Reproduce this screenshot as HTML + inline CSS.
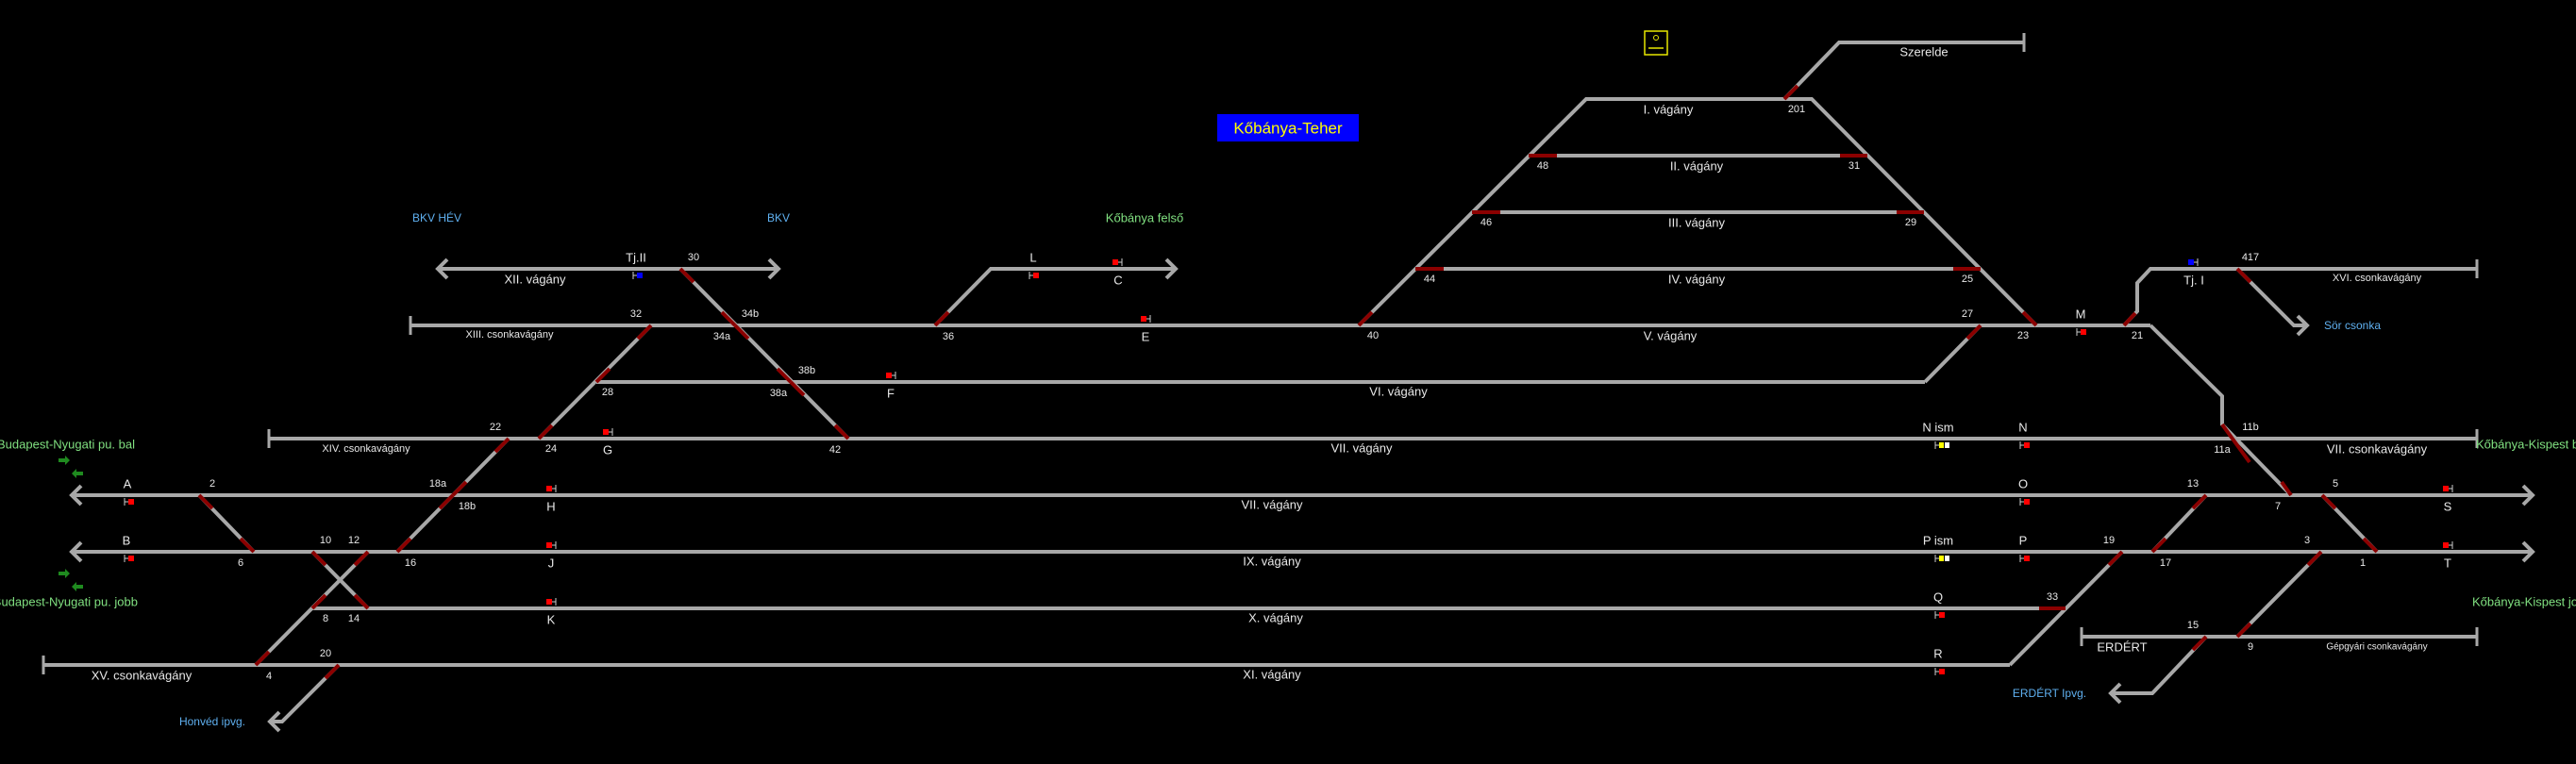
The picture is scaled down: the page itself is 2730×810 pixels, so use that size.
<!DOCTYPE html>
<html><head><meta charset="utf-8"><style>
html,body{margin:0;padding:0;background:#000;}
svg{display:block;}
text{font-family:"Liberation Sans",sans-serif;fill:#e8e8e8;font-size:12px;dominant-baseline:central;text-anchor:middle;}
.n{font-size:11px}
.t{font-size:13px}
.s{font-size:11px}
.b{fill:#5fb0f0;font-size:12px}
.g{fill:#80e080;font-size:13px}
</style></head><body>
<svg width="2730" height="810" viewBox="0 0 2730 810" xmlns="http://www.w3.org/2000/svg">
<g stroke="#a8a8a8" stroke-width="4" fill="none" stroke-linecap="butt">
<line x1="464" y1="285" x2="825" y2="285"/>
<polyline points="1246,285 1050,285 991,345"/>
<line x1="435" y1="345" x2="2279" y2="345"/>
<line x1="632" y1="405" x2="2040" y2="405"/>
<line x1="285" y1="465" x2="2625" y2="465"/>
<line x1="76" y1="525" x2="2684" y2="525"/>
<line x1="76" y1="585" x2="2684" y2="585"/>
<line x1="331" y1="645" x2="2189" y2="645"/>
<line x1="46" y1="705" x2="2130" y2="705"/>
<line x1="2206" y1="675" x2="2625" y2="675"/>
<line x1="435" y1="335" x2="435" y2="355" stroke-width="3"/>
<line x1="285" y1="455" x2="285" y2="475" stroke-width="3"/>
<line x1="46" y1="695" x2="46" y2="715" stroke-width="3"/>
<line x1="2625" y1="455" x2="2625" y2="475" stroke-width="3"/>
<line x1="2625" y1="275" x2="2625" y2="295" stroke-width="3"/>
<line x1="2206" y1="665" x2="2206" y2="685" stroke-width="3"/>
<line x1="2625" y1="665" x2="2625" y2="685" stroke-width="3"/>
<line x1="2145" y1="35" x2="2145" y2="55" stroke-width="3"/>
<polyline points="86,515 76,525 86,535"/>
<polyline points="86,575 76,585 86,595"/>
<polyline points="474,275 464,285 474,295"/>
<polyline points="815,275 825,285 815,295"/>
<polyline points="1236,275 1246,285 1236,295"/>
<polyline points="2674,515 2684,525 2674,535"/>
<polyline points="2674,575 2684,585 2674,595"/>
<polyline points="296,755 286,765 296,775"/>
<polyline points="2435,335 2445,345 2435,355"/>
<polyline points="2247,725 2237,735 2247,745"/>
<line x1="690" y1="345" x2="571" y2="465"/>
<line x1="539" y1="465" x2="421" y2="585"/>
<line x1="211" y1="525" x2="269" y2="585"/>
<line x1="331" y1="585" x2="390" y2="645"/>
<line x1="390" y1="585" x2="271" y2="705"/>
<polyline points="359,705 299,765 286,765"/>
<line x1="721" y1="285" x2="899" y2="465"/>
<polyline points="1440,345 1681,105 1920,105 2158,345"/>
<polyline points="1891,105 1949,45 2145,45"/>
<line x1="1620" y1="165" x2="1979" y2="165"/>
<line x1="1560" y1="225" x2="2039" y2="225"/>
<line x1="1500" y1="285" x2="2099" y2="285"/>
<line x1="2099" y1="345" x2="2040" y2="405"/>
<polyline points="2251,345 2265,330 2265,300 2279,285 2625,285"/>
<polyline points="2371,285 2431,345 2445,345"/>
<polyline points="2279,345 2355,420 2355,450 2428,525"/>
<line x1="2338" y1="525" x2="2281" y2="585"/>
<line x1="2461" y1="525" x2="2519" y2="585"/>
<polyline points="2249,585 2130,705"/>
<line x1="2460" y1="585" x2="2371" y2="675"/>
<polyline points="2338,675 2281,735 2237,735"/>
</g>
<g stroke="#8b0000" stroke-width="4">
<line x1="690" y1="345" x2="676" y2="359"/>
<line x1="632" y1="405" x2="646" y2="391"/>
<line x1="571" y1="465" x2="585" y2="451"/>
<line x1="539" y1="465" x2="525" y2="479"/>
<line x1="480" y1="525" x2="494" y2="511"/>
<line x1="480" y1="525" x2="466" y2="539"/>
<line x1="421" y1="585" x2="435" y2="571"/>
<line x1="211" y1="525" x2="225" y2="539"/>
<line x1="269" y1="585" x2="255" y2="571"/>
<line x1="331" y1="585" x2="345" y2="599"/>
<line x1="390" y1="645" x2="376" y2="631"/>
<line x1="390" y1="585" x2="376" y2="599"/>
<line x1="331" y1="645" x2="345" y2="631"/>
<line x1="271" y1="705" x2="285" y2="691"/>
<line x1="359" y1="705" x2="345" y2="719"/>
<line x1="721" y1="285" x2="735" y2="299"/>
<line x1="779" y1="345" x2="765" y2="331"/>
<line x1="779" y1="345" x2="793" y2="359"/>
<line x1="838" y1="405" x2="824" y2="391"/>
<line x1="838" y1="405" x2="852" y2="419"/>
<line x1="899" y1="465" x2="885" y2="451"/>
<line x1="991" y1="345" x2="1005" y2="331"/>
<line x1="1440" y1="345" x2="1454" y2="331"/>
<line x1="1891" y1="105" x2="1905" y2="91"/>
<line x1="1620" y1="165" x2="1650" y2="165"/>
<line x1="1950" y1="165" x2="1979" y2="165"/>
<line x1="1560" y1="225" x2="1590" y2="225"/>
<line x1="2010" y1="225" x2="2039" y2="225"/>
<line x1="1500" y1="285" x2="1530" y2="285"/>
<line x1="2070" y1="285" x2="2099" y2="285"/>
<line x1="2158" y1="345" x2="2144" y2="331"/>
<line x1="2099" y1="345" x2="2085" y2="359"/>
<line x1="2251" y1="345" x2="2263" y2="332"/>
<line x1="2371" y1="285" x2="2385" y2="299"/>
<line x1="2355" y1="450" x2="2384" y2="490"/>
<line x1="2428" y1="525" x2="2418" y2="511"/>
<line x1="2338" y1="525" x2="2324" y2="539"/>
<line x1="2281" y1="585" x2="2295" y2="571"/>
<line x1="2461" y1="525" x2="2475" y2="539"/>
<line x1="2519" y1="585" x2="2505" y2="571"/>
<line x1="2249" y1="585" x2="2235" y2="599"/>
<line x1="2161" y1="645" x2="2189" y2="645"/>
<line x1="2460" y1="585" x2="2446" y2="599"/>
<line x1="2371" y1="675" x2="2385" y2="661"/>
<line x1="2338" y1="675" x2="2324" y2="689"/>
</g>
<g stroke="#cccccc" stroke-width="1">
<path d="M671,288v8M671,292h5 M132,528v8M132,532h5 M132,588v8M132,592h5 M1091,288v8M1091,292h5 M2201,348v8M2201,352h5 M2141,468v8M2141,472h5 M2141,528v8M2141,532h5 M2141,588v8M2141,592h5 M2051,648v8M2051,652h5 M2051,708v8M2051,712h5 M2051,468v8M2051,472h5 M2051,588v8M2051,592h5"/>
<path d="M589,514v8M589,518h-5 M589,574v8M589,578h-5 M589,634v8M589,638h-5 M649,454v8M649,458h-5 M1189,274v8M1189,278h-5 M1219,334v8M1219,338h-5 M949,394v8M949,398h-5 M2599,514v8M2599,518h-5 M2599,574v8M2599,578h-5 M2329,274v8M2329,278h-5"/>
</g>
<g fill="#ff0000">
<rect x="136" y="529" width="6" height="6"/><rect x="136" y="589" width="6" height="6"/>
<rect x="579" y="515" width="6" height="6"/><rect x="579" y="575" width="6" height="6"/><rect x="579" y="635" width="6" height="6"/>
<rect x="639" y="455" width="6" height="6"/>
<rect x="1095" y="289" width="6" height="6"/><rect x="1179" y="275" width="6" height="6"/><rect x="1209" y="335" width="6" height="6"/><rect x="939" y="395" width="6" height="6"/>
<rect x="2205" y="349" width="6" height="6"/><rect x="2145" y="469" width="6" height="6"/><rect x="2145" y="529" width="6" height="6"/><rect x="2145" y="589" width="6" height="6"/>
<rect x="2055" y="649" width="6" height="6"/><rect x="2055" y="709" width="6" height="6"/>
<rect x="2589" y="515" width="6" height="6"/><rect x="2589" y="575" width="6" height="6"/>
</g>
<g fill="#0000ff"><rect x="675" y="289" width="6" height="6"/><rect x="2319" y="275" width="6" height="6"/></g>
<g><rect x="2055" y="469" width="5" height="6" fill="#ffff00"/><rect x="2061" y="469" width="5" height="6" fill="#ffffff"/>
<rect x="2055" y="589" width="5" height="6" fill="#ffff00"/><rect x="2061" y="589" width="5" height="6" fill="#ffffff"/></g>
<g fill="#1f8a1f">
<path d="M62,486h7v-3l5,5l-5,5v-3h-7z"/><path d="M88,500h-7v-3l-5,5l5,5v-3h7z"/>
<path d="M62,606h7v-3l5,5l-5,5v-3h-7z"/><path d="M88,620h-7v-3l-5,5l5,5v-3h7z"/>
</g>
<rect x="1743" y="33" width="24" height="25" fill="none" stroke="#e8e800" stroke-width="1.5"/>
<circle cx="1755" cy="40" r="2.5" fill="none" stroke="#e8e800" stroke-width="1"/>
<line x1="1747" y1="51" x2="1763" y2="51" stroke="#e8e800" stroke-width="1.5"/>
<rect x="1290" y="121" width="150" height="29" fill="#0000ff"/>
<text x="1365" y="136" style="fill:#ffff00;font-size:17px">Kőbánya-Teher</text>
<text class="b" x="463" y="231">BKV HÉV</text>
<text class="b" x="825" y="231">BKV</text>
<text class="g" x="1213" y="231">Kőbánya felső</text>
<text class="t" x="674" y="273">Tj.II</text>
<text class="n" x="735" y="273">30</text>
<text class="t" x="567" y="296">XII. vágány</text>
<text class="n" x="674" y="333">32</text>
<text class="s" x="540" y="355">XIII. csonkavágány</text>
<text class="n" x="795" y="333">34b</text>
<text class="n" x="765" y="357">34a</text>
<text class="n" x="1005" y="357">36</text>
<text class="t" x="1214" y="357">E</text>
<text class="t" x="1095" y="273">L</text>
<text class="t" x="1185" y="297">C</text>
<text class="n" x="855" y="393">38b</text>
<text class="n" x="825" y="417">38a</text>
<text class="t" x="944" y="417">F</text>
<text class="n" x="644" y="416">28</text>
<text class="t" x="1482" y="415">VI. vágány</text>
<text class="n" x="525" y="453">22</text>
<text class="s" x="388" y="476">XIV. csonkavágány</text>
<text class="n" x="584" y="476">24</text>
<text class="t" x="644" y="477">G</text>
<text class="n" x="885" y="477">42</text>
<text class="t" x="1443" y="475">VII. vágány</text>
<text class="g" x="143" y="471" style="text-anchor:end">Budapest-Nyugati pu. bal</text>
<text class="g" x="146" y="638" style="text-anchor:end">Budapest-Nyugati pu. jobb</text>
<text class="t" x="135" y="513">A</text>
<text class="n" x="225" y="513">2</text>
<text class="n" x="464" y="513">18a</text>
<text class="n" x="495" y="537">18b</text>
<text class="t" x="584" y="537">H</text>
<text class="t" x="1348" y="535">VII. vágány</text>
<text class="t" x="134" y="573">B</text>
<text class="n" x="255" y="597">6</text>
<text class="n" x="345" y="573">10</text>
<text class="n" x="375" y="573">12</text>
<text class="n" x="435" y="597">16</text>
<text class="t" x="584" y="597">J</text>
<text class="t" x="1348" y="595">IX. vágány</text>
<text class="n" x="345" y="656">8</text>
<text class="n" x="375" y="656">14</text>
<text class="t" x="584" y="657">K</text>
<text class="t" x="1352" y="655">X. vágány</text>
<text class="n" x="345" y="693">20</text>
<text class="t" x="150" y="716">XV. csonkavágány</text>
<text class="n" x="285" y="717">4</text>
<text class="t" x="1348" y="715">XI. vágány</text>
<text class="b" x="225" y="765">Honvéd ipvg.</text>
<text class="t" x="1768" y="116">I. vágány</text>
<text class="n" x="1904" y="116">201</text>
<text class="t" x="1798" y="176">II. vágány</text>
<text class="n" x="1635" y="176">48</text>
<text class="n" x="1965" y="176">31</text>
<text class="t" x="1798" y="236">III. vágány</text>
<text class="n" x="1575" y="236">46</text>
<text class="n" x="2025" y="236">29</text>
<text class="t" x="1798" y="296">IV. vágány</text>
<text class="n" x="1515" y="296">44</text>
<text class="n" x="2085" y="296">25</text>
<text class="n" x="2085" y="333">27</text>
<text class="n" x="1455" y="356">40</text>
<text class="t" x="1770" y="356">V. vágány</text>
<text class="t" x="2039" y="55">Szerelde</text>
<text class="t" x="2205" y="333">M</text>
<text class="n" x="2144" y="356">23</text>
<text class="n" x="2265" y="356">21</text>
<text class="t" x="2325" y="297">Tj. I</text>
<text class="n" x="2385" y="273">417</text>
<text class="s" x="2519" y="295">XVI. csonkavágány</text>
<text class="b" x="2493" y="345">Sör csonka</text>
<text class="t" x="2054" y="453">N ism</text>
<text class="t" x="2144" y="453">N</text>
<text class="n" x="2385" y="453">11b</text>
<text class="n" x="2355" y="477">11a</text>
<text class="t" x="2519" y="476">VII. csonkavágány</text>
<text class="g" x="2624" y="471" style="text-anchor:start">Kőbánya-Kispest b</text>
<text class="t" x="2144" y="513">O</text>
<text class="n" x="2324" y="513">13</text>
<text class="n" x="2475" y="513">5</text>
<text class="n" x="2414" y="537">7</text>
<text class="t" x="2594" y="537">S</text>
<text class="t" x="2054" y="573">P ism</text>
<text class="t" x="2144" y="573">P</text>
<text class="n" x="2235" y="573">19</text>
<text class="n" x="2445" y="573">3</text>
<text class="n" x="2295" y="597">17</text>
<text class="n" x="2504" y="597">1</text>
<text class="t" x="2594" y="597">T</text>
<text class="t" x="2054" y="633">Q</text>
<text class="n" x="2175" y="633">33</text>
<text class="g" x="2620" y="638" style="text-anchor:start">Kőbánya-Kispest jo</text>
<text class="t" x="2054" y="693">R</text>
<text class="n" x="2324" y="663">15</text>
<text class="t" x="2249" y="686">ERDÉRT</text>
<text class="n" x="2385" y="686">9</text>
<text style="font-size:10px" x="2519" y="686">Gépgyári csonkavágány</text>
<text class="b" x="2172" y="735">ERDÉRT Ipvg.</text>
</svg>
</body></html>
